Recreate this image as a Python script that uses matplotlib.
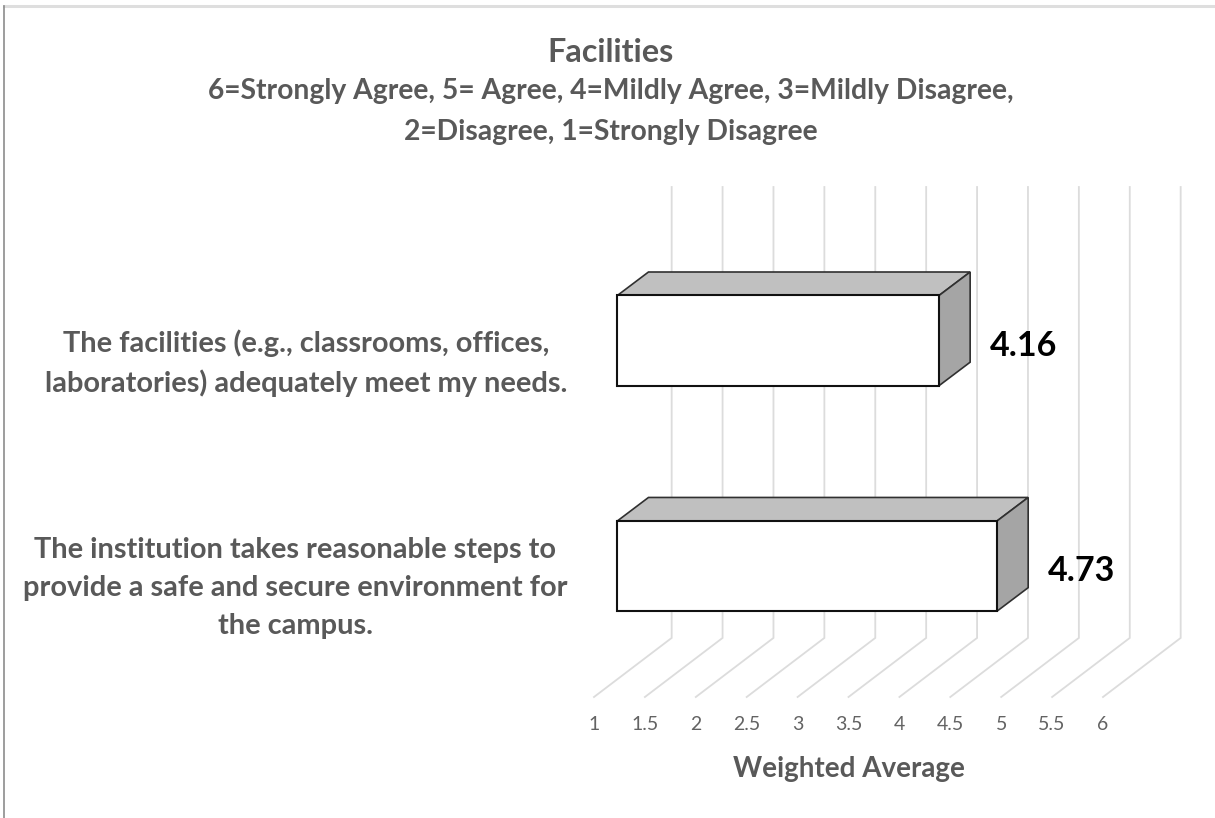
import matplotlib
matplotlib.use("Agg")
import matplotlib.pyplot as plt
from matplotlib.lines import Line2D
from matplotlib.patches import Polygon

# data
questions = [
    "The institution takes reasonable steps to\nprovide a safe and secure environment for\nthe campus.",
    "The facilities (e.g., classrooms, offices,\nlaboratories) adequately meet my needs.",
]
averages = [4.73, 4.16]
ticks = [1, 1.5, 2, 2.5, 3, 3.5, 4, 4.5, 5, 5.5, 6]
tick_labels = ["1", "1.5", "2", "2.5", "3", "3.5", "4", "4.5", "5", "5.5", "6"]
title = "Facilities"
subtitle = ["6=Strongly Agree, 5= Agree, 4=Mildly Agree, 3=Mildly Disagree,",
            "2=Disagree, 1=Strongly Disagree"]

W, H = 1215, 818
GREY = "#595959"
plt.rcParams["font.family"] = ["Lato", "DejaVu Sans"]

fig = plt.figure(figsize=(W / 100, H / 100), dpi=100)
# axes box is the floor front edge up to the top of the gridlines
ax = fig.add_axes([594 / W, 1 - 697 / H, 509 / W, 510 / H])
ax.set_xlim(1, 6)
ax.set_ylim(-0.581, 1.681)

# depth of the fake 3d box, in data units
floor_dx, floor_dy = 0.763, 0.262
inset = 0.23
bar_dx, bar_dy = 0.305, 0.104
bar_h = 0.4

y0, y1 = ax.get_ylim()
for t in ticks:
    ax.plot([t, t + floor_dx, t + floor_dx], [y0, y0 + floor_dy, y1],
            color="#dcdcdc", lw=1.3, clip_on=False, zorder=1,
            solid_joinstyle="miter")

for i, v in enumerate(averages):
    left = 1 + inset
    right = v + inset
    low = i - bar_h / 2
    high = i + bar_h / 2
    top = [(left, high), (right, high), (right + bar_dx, high + bar_dy), (left + bar_dx, high + bar_dy)]
    side = [(right, low), (right + bar_dx, low + bar_dy), (right + bar_dx, high + bar_dy), (right, high)]
    front = [(left, low), (right, low), (right, high), (left, high)]
    ax.add_patch(Polygon(top, fc="#c0c0c0", ec="#303030", lw=1.2, zorder=3, clip_on=False))
    ax.add_patch(Polygon(side, fc="#a5a5a5", ec="#303030", lw=1.2, zorder=3, clip_on=False))
    ax.add_patch(Polygon(front, fc="white", ec="#111111", lw=1.5, zorder=4, clip_on=False))
    ax.text(right + 0.5, i - 0.024, f"{v:.2f}", fontsize=24.5, fontweight="bold",
            color="black", va="center", ha="left", zorder=5)

for s in ax.spines.values():
    s.set_visible(False)
ax.patch.set_visible(False)

ax.set_xticks(ticks)
ax.set_xticklabels(tick_labels, fontsize=14, color="#636363")
ax.tick_params(axis="x", length=0, pad=14)
ax.set_xlabel("Weighted Average", fontsize=20, fontweight="bold", color=GREY, labelpad=16)

# the labels sit a bit lower than the bars
label_shift = 0.06
ax.set_yticks([i - label_shift for i in range(len(questions))])
ax.set_yticklabels(questions, fontsize=20.9, fontweight="bold", color=GREY, linespacing=1.58)
ax.tick_params(axis="y", length=0, pad=19)
for lab in ax.get_yticklabels():
    lab.set_multialignment("center")

fig.text(611 / W, 1 - 53 / H, title, ha="center", va="center", fontsize=23.3,
         fontweight="bold", color=GREY)
fig.text(611 / W, 1 - 91 / H, subtitle[0], ha="center", va="center", fontsize=20.3,
         fontweight="bold", color=GREY)
fig.text(611 / W, 1 - 132 / H, subtitle[1], ha="center", va="center", fontsize=20.3,
         fontweight="bold", color=GREY)

# frame of the screenshot
fig.add_artist(Line2D([4 / W, 1], [1 - 6 / H, 1 - 6 / H], color="#dedede", lw=2.2))
fig.add_artist(Line2D([4 / W, 4 / W], [0, 1 - 6 / H], color="#8c8c8c", lw=1.2))

fig.savefig("out.png", dpi=100)
